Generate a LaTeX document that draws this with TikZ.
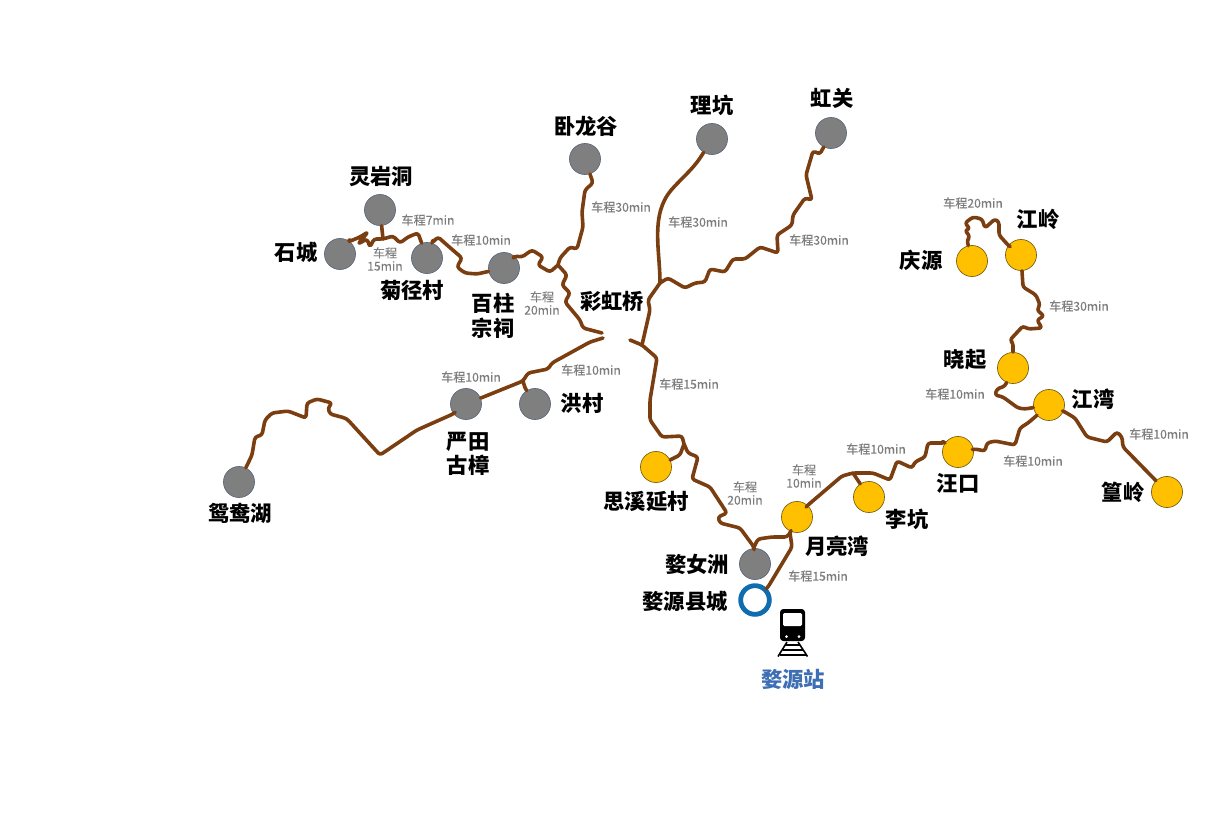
\documentclass[tikz,border=0pt]{standalone}
\usepackage{fontspec}
\setmainfont{Noto Sans CJK SC}
\newfontfamily\timefont[FakeBold=0.25]{Noto Sans CJK SC}
\definecolor{roadbrown}{RGB}{122,62,16}
\definecolor{stopgrey}{RGB}{127,127,127}
\definecolor{stopyellow}{RGB}{255,192,0}
\definecolor{ringblue}{RGB}{15,108,175}
\definecolor{stationblue}{RGB}{62,110,180}
\definecolor{timegrey}{RGB}{125,125,125}
\tikzset{
  road/.style={draw=roadbrown,line width=2.7pt,line join=round,line cap=round,rounded corners=2pt},
  greystop/.style={circle,draw={rgb,255:red,92;green,104;blue,125},line width=0.5pt,fill=stopgrey,minimum size=23.3pt,inner sep=0pt},
  yellowstop/.style={circle,draw={rgb,255:red,120;green,95;blue,20},line width=0.5pt,fill=stopyellow,minimum size=23.3pt,inner sep=0pt},
  ringstop/.style={circle,draw=ringblue,line width=3.6pt,fill=white,minimum size=21.5pt,inner sep=0pt},
  bigname/.style={font=\fontsize{16}{18.5}\selectfont\bfseries,text=black,align=center,inner sep=0pt,yshift=-0.6pt},
  timelabel/.style={font=\timefont\fontsize{9.1}{9.8}\selectfont,text=timegrey,align=center,inner sep=0pt}
}
\begin{document}
\begin{tikzpicture}[x=0.75pt,y=0.75pt,yscale=-1,xscale=1]
\useasboundingbox (0,0) rectangle (1208,825);

% Stops
\node[greystop] (lingyan) at (380,210) {};
\node[greystop] (shicheng) at (340,254) {};
\node[greystop] (jujing) at (427,258) {};
\node[greystop] (baizhu) at (504,268) {};
\node[greystop] (wolong) at (585,159) {};
\node[greystop] (likeng) at (712,139) {};
\node[greystop] (hongguan) at (831,133) {};
\node[greystop] (yantian) at (466,404) {};
\node[greystop] (hongcun) at (535,404) {};
\node[greystop] (yuanyang) at (239,482) {};
\node[greystop] (wuzhou) at (755,564) {};
\node[yellowstop] (sixi) at (656,467) {};
\node[yellowstop] (yueliang) at (797,517) {};
\node[yellowstop] (likeng2) at (869,497) {};
\node[yellowstop] (wangkou) at (958,452) {};
\node[yellowstop] (jiangwan) at (1049,405) {};
\node[yellowstop] (xiaoqi) at (1013,368) {};
\node[yellowstop] (jiangling) at (1021,255) {};
\node[yellowstop] (qingyuan) at (972,261) {};
\node[yellowstop] (huangling) at (1167,492) {};
\node[ringstop] (county) at (755,600) {};

% Junctions
\coordinate (jwest) at (603,338);
\coordinate (jeast) at (630,340);
\coordinate (jnorth) at (602,333);
\coordinate (ja) at (558,265);
\coordinate (jb) at (523,381);
\coordinate (jc) at (642,345);
\coordinate (jd) at (660,283);
\coordinate (je) at (684,444);
\coordinate (jf) at (754,547);
\coordinate (jg) at (790,533);
\coordinate (jh) at (853,473);
\coordinate (ji) at (383,239);

% Roads
\draw[road] (shicheng) -- (348,242) -- (360,237) -- (368,232) -- (358,244) -- (367,239) -- (370,247) -- (374,239) -- (ji) -- (393,236) -- (400,243) -- (408,237) -- (418,233) -- (jujing);
\draw[road] (lingyan) -- (ji);
\draw[road] (jujing) -- (432,243) -- (438,237) -- (447,245) -- (462,258) -- (457,267) -- (465,273) -- (477,274) -- (baizhu);
\draw[road] (baizhu) -- (515,256) -- (522,257) -- (532,250) -- (543,257) -- (538,265) -- (550,272) -- (ja);
\draw[road] (ja) -- (560,258) -- (570,247) -- (577,249) -- (583,227) -- (582,212) -- (585,190) -- (593,183) -- (wolong);
\draw[road] (ja) -- (567,275) -- (562,285) -- (570,293) -- (565,302) -- (580,320) -- (583,328) -- (jnorth);
\draw[road] (jwest) -- (590,342) -- (552,363) -- (548,369) -- (528,373) -- (jb) -- (yantian);
\draw[road] (jb) -- (525,388) -- (hongcun);
\draw[road] (yantian) -- (453,414) -- (417,430) -- (380,455) -- (348,420) -- (345,418) -- (330,414) -- (328,408) -- (332,403) -- (317,399) -- (307,403) -- (306,418) -- (288,411) -- (272,413) -- (265,420) -- (262,435) -- (255,437) -- (252,455) -- (yuanyang);
\draw[road] (jeast) -- (jc) -- (657,358) -- (650,400) -- (650,420) -- (662,437) -- (682,436) -- (je);
\draw[road] (je) -- (680,455) -- (sixi);
\draw[road] (je) -- (688,453) -- (698,457) -- (692,479) -- (710,487) -- (727,513) -- (718,517) -- (720,523) -- (740,528) -- (jf) -- (wuzhou);
\draw[road] (jf) -- (758,539) -- (772,537) -- (787,537) -- (jg) -- (yueliang);
\draw[road] (county) -- (768,587) -- (792,547) -- (jg);
\draw[road] (yueliang) -- (808,505) -- (842,476) -- (jh) -- (873,473) -- (890,480) -- (897,461) -- (912,468) -- (915,462) -- (925,457) -- (928,443) -- (945,443) -- (wangkou);
\draw[road] (jh) -- (likeng2);
\draw[road] (wangkou) -- (975,449) -- (985,451) -- (987,443) -- (995,441) -- (1015,445) -- (1020,428) -- (1028,423) -- (jiangwan);
\draw[road] (jiangwan) -- (1065,412) -- (1075,418) -- (1087,437) -- (1107,442) -- (1117,432) -- (1122,437) -- (1123,447) -- (huangling);
\draw[road] (jiangwan) -- (1025,409) -- (1018,408) -- (1003,397) -- (995,395) -- (997,389) -- (1005,386) -- (xiaoqi);
\draw[road] (xiaoqi) -- (1013,343) -- (1010,340) -- (1023,326) -- (1028,329) -- (1042,328) -- (1037,320) -- (1044,316) -- (1037,310) -- (1040,305) -- (1036,295) -- (1023,287) -- (jiangling);
\draw[road] (jiangling) -- (1008,245) -- (999,235) -- (999,222) -- (995,219) -- (985,228) -- (982,219) -- (973,217) -- (965,223) -- (970,229) -- (965,230) -- (970,237) -- (967,240) -- (qingyuan);
\draw[road] (jc) -- (650,310) -- (648,300) -- (jd);
\draw[road] (jd) .. controls (660,250) and (650,215) .. (673,188) .. controls (688,172) and (694,168) .. (likeng);
\draw[road] (jd) -- (668,278) -- (685,288) -- (695,283) -- (705,282) -- (710,269) -- (725,272) -- (733,259) -- (745,259) -- (760,247) -- (778,253) -- (777,235) -- (792,225) -- (793,215) -- (805,198) -- (812,200) -- (806,175) -- (813,151) -- (820,154) -- (hongguan);

% Names
\node[bigname] (nlingyan) at (381,176) {灵岩洞};
\node[bigname] (nshicheng) at (296,252) {石城};
\node[bigname] (njujing) at (412,290) {菊径村};
\node[bigname] (nbaizhu) at (493,315) {百柱\\宗祠};
\node[bigname] (ncaihong) at (612,301) {彩虹桥};
\node[bigname] (nwolong) at (586,126) {卧龙谷};
\node[bigname] (nlikeng) at (712,105) {理坑};
\node[bigname] (nhongguan) at (832,98) {虹关};
\node[bigname] (njiangling) at (1038,219) {江岭};
\node[bigname] (nqingyuan) at (921,260) {庆源};
\node[bigname] (nxiaoqi) at (965,359) {晓起};
\node[bigname] (njiangwan) at (1093,398) {江湾};
\node[bigname] (nhuangling) at (1123,492) {篁岭};
\node[bigname] (nwangkou) at (958,483) {汪口};
\node[bigname] (nlikeng2) at (907,519) {李坑};
\node[bigname] (nyueliang) at (837,545) {月亮湾};
\node[bigname] (nwuzhou) at (697,564) {婺女洲};
\node[bigname] (ncounty) at (685,601) {婺源县城};
\node[bigname] (nhongcun) at (582,403) {洪村};
\node[bigname] (nyantian) at (468,453) {严田\\古樟};
\node[bigname] (nsixi) at (646,501) {思溪延村};
\node[bigname] (nyuanyang) at (240,513) {鸳鸯湖};
\node[bigname,text=stationblue] (nstation) at (793,679) {婺源站};

% Times
\node[timelabel] (ta) at (428,220) {车程7min};
\node[timelabel] (tb) at (385,259) {车程\\15min};
\node[timelabel] (tc) at (481,240) {车程10min};
\node[timelabel] (td) at (621,207) {车程30min};
\node[timelabel] (te) at (542,303) {车程\\20min};
\node[timelabel] (tf) at (698,222) {车程30min};
\node[timelabel] (tg) at (819,240) {车程30min};
\node[timelabel] (th) at (973,203) {车程20min};
\node[timelabel] (ti) at (1079,306) {车程30min};
\node[timelabel] (tj) at (955,394) {车程10min};
\node[timelabel] (tk) at (1159,434) {车程10min};
\node[timelabel] (tl) at (1033,461) {车程10min};
\node[timelabel] (tm) at (876,449) {车程10min};
\node[timelabel] (tn) at (804,476) {车程\\10min};
\node[timelabel] (to) at (745,493) {车程\\20min};
\node[timelabel] (tp) at (818,576) {车程15min};
\node[timelabel] (tq) at (689,384) {车程15min};
\node[timelabel] (tr) at (591,370) {车程10min};
\node[timelabel] (ts) at (471,377) {车程10min};

% Train
\fill[black,rounded corners=2.5pt] (780,609) rectangle (805,641);
\fill[white,rounded corners=1pt] (783,613) rectangle (802,626);
\fill[white] (786.5,636.5) circle (1.5);
\fill[white] (799,636.5) circle (1.5);
\draw[black,line width=1.2pt] (787,642) -- (778,656.5);
\draw[black,line width=1.2pt] (798,642) -- (807.5,656.5);
\draw[black,line width=0.9pt] (785,645) -- (800,645);
\draw[black,line width=0.9pt] (782.5,650) -- (803,650);
\draw[black,line width=0.9pt] (779.5,655) -- (806,655);
\end{tikzpicture}
\end{document}
